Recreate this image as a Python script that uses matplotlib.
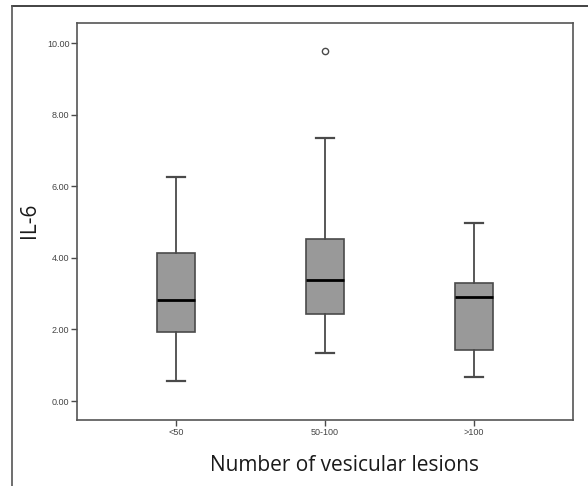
import matplotlib
matplotlib.use("Agg")
import matplotlib.pyplot as plt
from matplotlib.lines import Line2D

# Valores (IL-6 por grupo)
grupos = ["<50", "50-100", ">100"]
whisker_baixo = [0.57, 1.35, 0.68]
q1 = [1.92, 2.43, 1.43]
mediana = [2.83, 3.38, 2.90]
q3 = [4.13, 4.53, 3.31]
whisker_alto = [6.26, 7.35, 4.97]
outliers = [[], [9.77], []]

yticks = [0, 2, 4, 6, 8, 10]
ytick_labels = ["0.00", "2.00", "4.00", "6.00", "8.00", "10.00"]

stats = []
for i in range(len(grupos)):
    stats.append({
        "label": grupos[i],
        "whislo": whisker_baixo[i],
        "q1": q1[i],
        "med": mediana[i],
        "q3": q3[i],
        "whishi": whisker_alto[i],
        "fliers": outliers[i],
    })

fig = plt.figure(figsize=(5.88, 4.86), dpi=100)
ax = fig.add_axes([77 / 588, 1 - 420 / 486, 496 / 588, 397 / 486])

cinza = "#4a4a4a"
ax.bxp(stats, positions=[1, 2, 3], widths=0.255, patch_artist=True,
       boxprops=dict(facecolor="#999999", edgecolor=cinza, linewidth=1.2),
       medianprops=dict(color="black", linewidth=2.0),
       whiskerprops=dict(color=cinza, linewidth=1.3),
       capprops=dict(color=cinza, linewidth=1.6),
       capwidths=0.125,
       flierprops=dict(marker="o", markersize=4.5, markerfacecolor="white",
                       markeredgecolor=cinza, markeredgewidth=1.0))

ax.set_xlim(0.335, 3.665)
ax.set_ylim(-0.53, 10.56)
ax.set_yticks(yticks)
ax.set_yticklabels(ytick_labels, family="Liberation Sans")
ax.set_xticks([1, 2, 3])
ax.set_xticklabels(grupos, family="Liberation Sans")
ax.tick_params(axis="both", direction="out", length=4, width=1.0,
               color=cinza, labelsize=6.5, labelcolor="#444444", pad=1.5)

for s in ax.spines.values():
    s.set_color("#555555")
    s.set_linewidth(1.2)

fig.text(345 / 588, 1 - 465 / 486, "Number of vesicular lesions",
         ha="center", va="center", fontsize=15, family="Open Sans",
         color="#1a1a1a")
fig.text(29.5 / 588, 1 - 220 / 486, "IL-6", ha="center", va="center",
         rotation=90, fontsize=15, family="Open Sans", color="#1a1a1a")

# moldura externa (linha superior e esquerda)
fig.add_artist(Line2D([12 / 588, 1], [1 - 6 / 486, 1 - 6 / 486],
                      transform=fig.transFigure, color="#222222", linewidth=1.2))
fig.add_artist(Line2D([12 / 588, 12 / 588], [0, 1 - 6 / 486],
                      transform=fig.transFigure, color="#555555", linewidth=1.2))

fig.savefig("out.png", dpi=100)
